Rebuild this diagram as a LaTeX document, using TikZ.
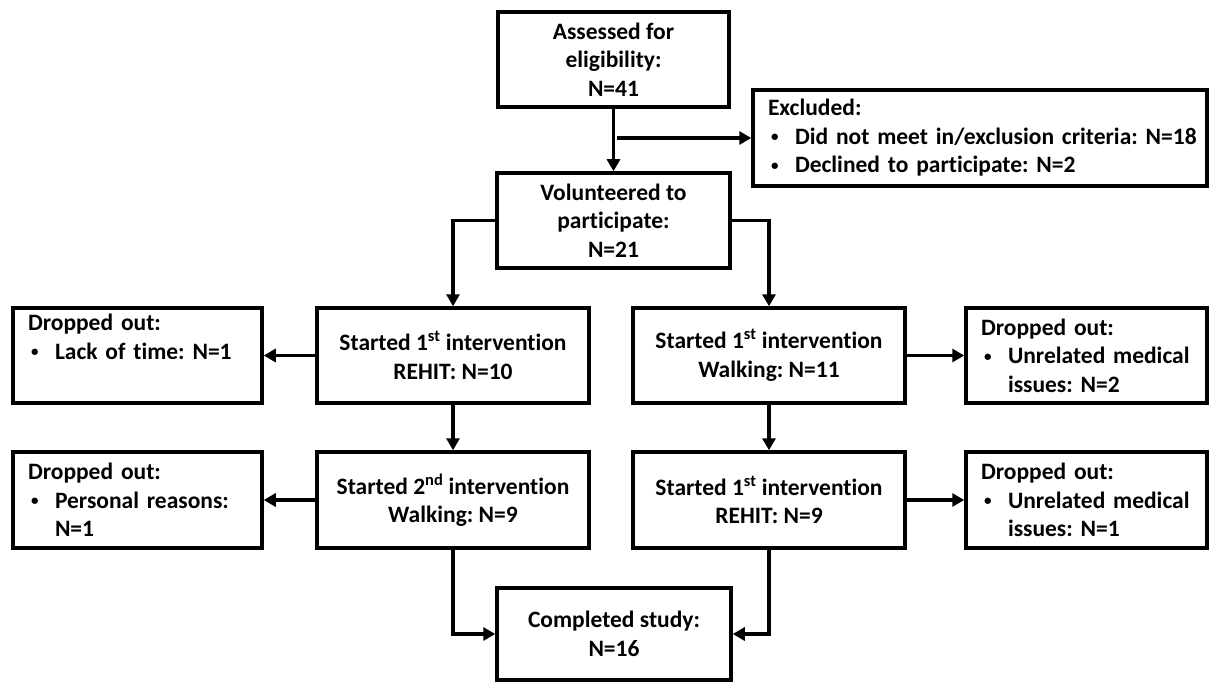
\documentclass[tikz,border=0pt]{standalone}
\usepackage{fontspec}
\setmainfont{Carlito}[Ligatures={NoCommon}]
\usetikzlibrary{arrows.meta}
\newcommand{\bul}{\makebox[27pt][l]{\hspace{3pt}\raisebox{2.5pt}{\fontsize{15}{15}\selectfont•}}}
\newcommand{\oneline}[1]{\mbox{#1}}
\frenchspacing
\begin{document}
\frenchspacing
\begin{tikzpicture}[x=1pt,y=-1pt,
  box/.style={draw, line width=3.5pt, rectangle, inner sep=0pt, align=center,
    font=\fontsize{23.5}{28.5}\selectfont\bfseries\frenchspacing},
  lbox/.style={box, align=left, inner xsep=15pt},
  conn/.style={line width=3.5pt, -{Triangle[length=12pt,width=13pt]}}
]
\useasboundingbox (0,0) rectangle (1210,682);

\node[box, minimum width=231pt, minimum height=95pt] (b1) at (613.5,59.5) {Assessed for\\eligibility:\\N=41};
\node[lbox, text width=424pt, minimum height=96pt] (excl) at (980,138)
  {Excluded:\\\oneline{\bul Did not meet in/exclusion criteria: N=18}\\\oneline{\bul Declined to participate: N=2}};
\node[box, minimum width=233pt, minimum height=95pt] (vol) at (613.5,220.5) {Volunteered to\\participate:\\N=21};

\node[lbox, text width=219pt, minimum height=95pt] (d1) at (137.5,355.5)
  {Dropped out:\\\oneline{\bul Lack of time: N=1}\\\strut};
\node[box, minimum width=272pt, minimum height=95pt] (r1) at (453,355.5)
  {Started 1\textsuperscript{st} intervention\\REHIT: N=10};
\node[box, minimum width=272pt, minimum height=95pt] (w1) at (769,355.5)
  {Started 1\textsuperscript{st} intervention\\Walking: N=11};
\node[lbox, text width=211pt, minimum height=95pt] (d2) at (1086.5,355.5)
  {Dropped out:\\\oneline{\bul Unrelated medical}\\\oneline{\hspace*{27pt}issues: N=2}};

\node[lbox, text width=219pt, minimum height=96pt] (d3) at (137.5,500)
  {Dropped out:\\\oneline{\bul Personal reasons:}\\\oneline{\hspace*{27pt}N=1}};
\node[box, minimum width=272pt, minimum height=96pt] (r2) at (453,500)
  {Started 2\textsuperscript{nd} intervention\\Walking: N=9};
\node[box, minimum width=272pt, minimum height=96pt] (w2) at (769,500)
  {Started 1\textsuperscript{st} intervention\\REHIT: N=9};
\node[lbox, text width=211pt, minimum height=96pt] (d4) at (1086.5,500)
  {Dropped out:\\\oneline{\bul Unrelated medical}\\\oneline{\hspace*{27pt}issues: N=1}};

\node[box, minimum width=234pt, minimum height=92pt] (comp) at (614,634) {Completed study:\\N=16};

\coordinate (exs) at (617,138);

\draw[conn] (b1.south) -- (vol.north);
\draw[conn] (exs) -- (excl.west);
\draw[conn] (vol.west) -| (r1.north);
\draw[conn] (vol.east) -| (w1.north);
\draw[conn] (r1.west) -- (d1.east);
\draw[conn] (w1.east) -- (d2.west);
\draw[conn] (r1.south) -- (r2.north);
\draw[conn] (w1.south) -- (w2.north);
\draw[conn] (r2.west) -- (d3.east);
\draw[conn] (w2.east) -- (d4.west);
\draw[conn] (r2.south) |- (comp.west);
\draw[conn] (w2.south) |- (comp.east);
\end{tikzpicture}
\end{document}
